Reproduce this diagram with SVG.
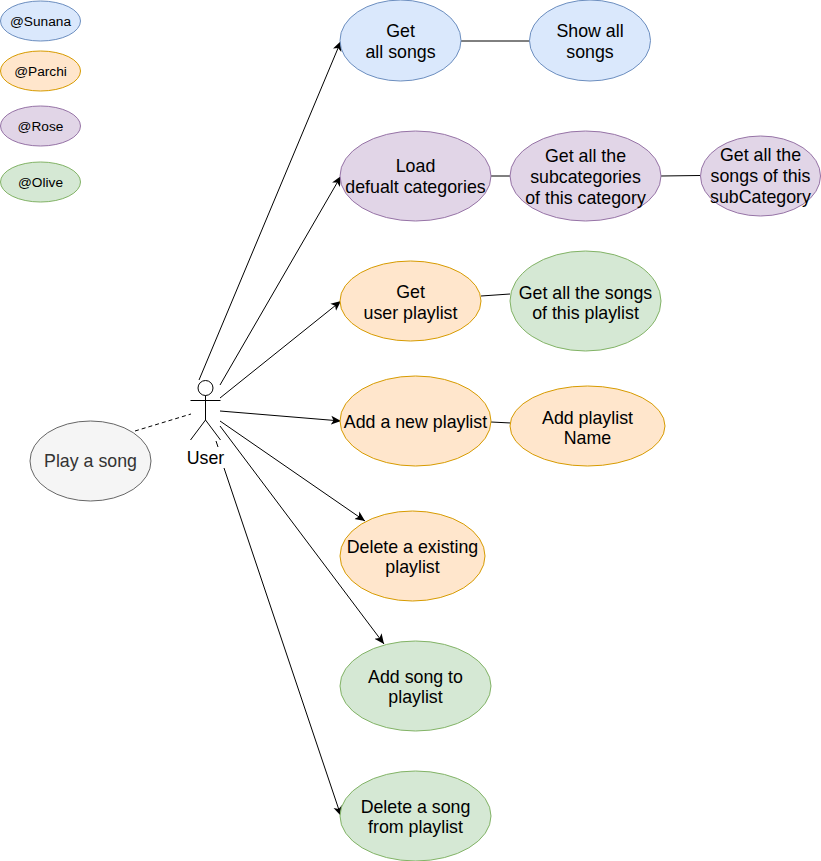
<svg xmlns="http://www.w3.org/2000/svg" width="821" height="861" viewBox="0 0 821 861">
<defs><marker id="a" markerWidth="12" markerHeight="10" refX="10" refY="5" orient="auto" markerUnits="userSpaceOnUse"><path d="M0 0.5L10 5L0 9.500L2.500 5Z" fill="#000"/></marker></defs>
<style>
text{font-family:"Liberation Sans",Arial,sans-serif;font-size:17.800px;fill:#000;text-anchor:middle}
.s{font-size:13.700px}
.l{fill:none;stroke:#000;stroke-width:1}
.b{fill:#dae8fc;stroke:#6c8ebf}.o{fill:#ffe6cc;stroke:#d79b00}.p{fill:#e1d5e7;stroke:#9673a6}.g{fill:#d5e8d4;stroke:#82b366}.w{fill:#f5f5f5;stroke:#666}
</style>
<rect width="821" height="861" fill="#fff"/>
<g id="connectors">
<path class="l" marker-end="url(#a)" d="M199 380L341 41"/>
<path class="l" marker-end="url(#a)" d="M220 385L341 176"/>
<path class="l" marker-end="url(#a)" d="M220 398L341 301"/>
<path class="l" marker-end="url(#a)" d="M220 411L341 421"/>
<path class="l" marker-end="url(#a)" d="M220 421L365 521"/>
<path class="l" marker-end="url(#a)" d="M220 426L384 644"/>
<path class="l" d="M216 441L218 447"/>
<path class="l" marker-end="url(#a)" d="M224 468L341 816"/>
<path class="l" d="M461 41H530M491 176L510 176M661 176L700 175.500M481 296L510 294M511 423L491 422"/>
<path class="l" stroke-dasharray="4 3" d="M135 431L191 414"/>
</g>
<g id="legend-sunana"><ellipse class="b" cx="40.500" cy="21" rx="40" ry="20"/><text class="s" x="40.500" y="26">@Sunana</text></g>
<g id="legend-parchi"><ellipse class="o" cx="40.500" cy="71" rx="40" ry="20"/><text class="s" x="40.500" y="76">@Parchi</text></g>
<g id="legend-rose"><ellipse class="p" cx="40.500" cy="126" rx="40" ry="20"/><text class="s" x="40.500" y="131">@Rose</text></g>
<g id="legend-olive"><ellipse class="g" cx="40.500" cy="182" rx="40" ry="20"/><text class="s" x="40.500" y="187">@Olive</text></g>
<g id="get-all-songs"><ellipse class="b" cx="400.500" cy="40.500" rx="60.500" ry="40.500"/><text x="400.500" y="37">Get</text><text x="400.500" y="58">all songs</text></g>
<g id="show-all-songs"><ellipse class="b" cx="590" cy="40.500" rx="60.500" ry="40.500"/><text x="590" y="37">Show all</text><text x="590" y="58">songs</text></g>
<g id="load-categories"><ellipse class="p" cx="415.500" cy="176" rx="75.500" ry="45"/><text x="415.500" y="172">Load</text><text x="415.500" y="193">defualt categories</text></g>
<g id="subcategories"><ellipse class="p" cx="585.500" cy="176" rx="75.500" ry="45"/><text x="585.500" y="162">Get all the</text><text x="585.500" y="183">subcategories</text><text x="585.500" y="204">of this category</text></g>
<g id="subcategory-songs"><ellipse class="p" cx="760.500" cy="176" rx="60" ry="40"/><text x="760.500" y="161">Get all the</text><text x="760.500" y="182">songs of this</text><text x="760.500" y="203">subCategory</text></g>
<g id="user-playlist"><ellipse class="o" cx="410.500" cy="301" rx="70.500" ry="40"/><text x="410.500" y="298">Get</text><text x="410.500" y="319">user playlist</text></g>
<g id="playlist-songs"><ellipse class="g" cx="585.500" cy="301" rx="75.500" ry="50"/><text x="585.500" y="299">Get all the songs</text><text x="585.500" y="319">of this playlist</text></g>
<g id="add-playlist"><ellipse class="o" cx="415.500" cy="421" rx="75.500" ry="45"/><text x="415.500" y="428">Add a new playlist</text></g>
<g id="add-playlist-name"><ellipse class="o" cx="587.500" cy="426" rx="77.500" ry="40"/><text x="587.500" y="424">Add playlist</text><text x="587.500" y="444">Name</text></g>
<g id="delete-playlist"><ellipse class="o" cx="412.500" cy="556" rx="72.500" ry="45"/><text x="412.500" y="553">Delete a existing</text><text x="412.500" y="573">playlist</text></g>
<g id="add-song"><ellipse class="g" cx="415.500" cy="686" rx="75.500" ry="45"/><text x="415.500" y="683">Add song to</text><text x="415.500" y="703">playlist</text></g>
<g id="delete-song"><ellipse class="g" cx="415.500" cy="816" rx="75.500" ry="45"/><text x="415.500" y="813">Delete a song</text><text x="415.500" y="833">from playlist</text></g>
<g id="play-song"><ellipse class="w" cx="90.500" cy="461" rx="60.500" ry="40"/><text x="90.500" y="467" style="fill:#333">Play a song</text></g>
<g id="user"><circle cx="205.500" cy="388" r="7.500" fill="#fff" stroke="#000"/><path class="l" d="M205.500 395.500V420M190.500 400.500H220.500M205.500 420L190.500 440M205.500 420L220.500 440"/><text x="205.500" y="464">User</text></g>
</svg>
